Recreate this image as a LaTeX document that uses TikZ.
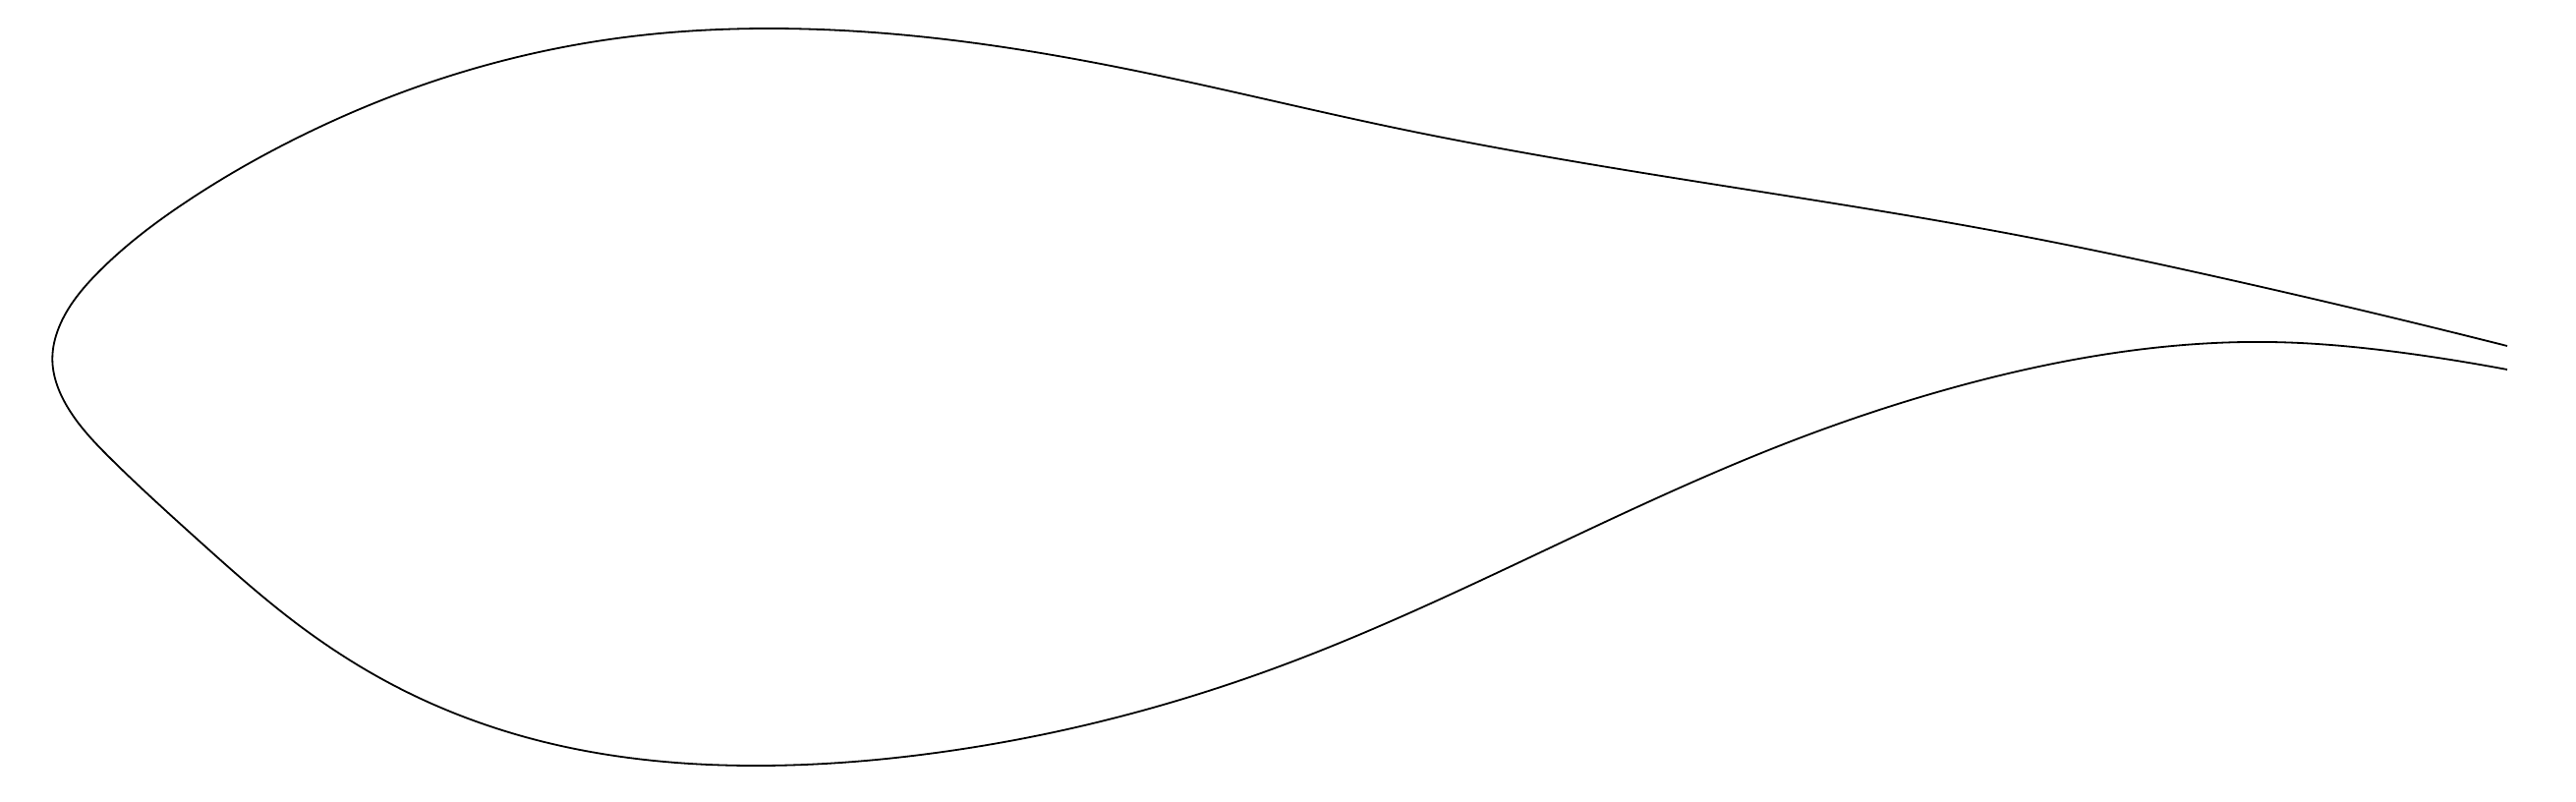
\documentclass[tikz,border=0pt]{standalone}
\usetikzlibrary{hobby}
\begin{document}
\begin{tikzpicture}[x=0.5pt,y=-0.5pt,
  profile/.style={draw=black,line width=0.9pt,line join=round,use Hobby shortcut}]
\useasboundingbox (0,0) rectangle (2621,815);
\fill[white] (0,0) rectangle (2621,815);
\draw[profile] (2551,352) .. (2248,280) .. (2046,238) .. (1728,185) .. (1419,130) .. (1170,75)
 .. (944,38) .. (785,29) .. (635,38) .. (440,83) .. (307,138) .. (190,205) .. (100,277) .. (60,333)
 .. (53.3,365) .. (68,413) .. (113,467) .. (200,548) .. (300,633) .. (400,697) .. (550,754)
 .. (769,779) .. (952,766) .. (1136,730) .. (1310,675) .. (1561,565) .. (1812,453) .. (1996,392)
 .. (2200,353) .. (2310,348) .. (2460,361) .. (2551,376);
\end{tikzpicture}
\end{document}
